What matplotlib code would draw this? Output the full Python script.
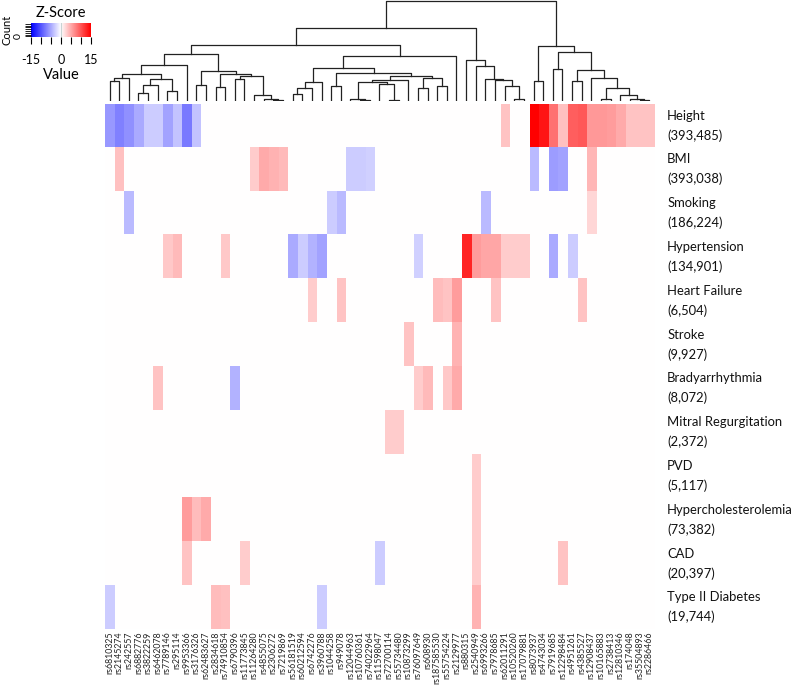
import numpy as np
import matplotlib.pyplot as plt
from matplotlib.colors import LinearSegmentedColormap

plt.rcParams['font.family'] = ['Lato', 'DejaVu Sans']

# SNPs (columns, dendrogram order)
snps = ['rs6810325', 'rs2145274', 'rs242557', 'rs6882776', 'rs3822259', 'rs6462078',
        'rs7789146', 'rs295114', 'rs9953366', 'rs3176326', 'rs62483627', 'rs2834618',
        'rs74910854', 'rs6790396', 'rs11773845', 'rs11264280', 'rs4855075', 'rs2306272',
        'rs7219869', 'rs56181519', 'rs60212594', 'rs6742276', 'rs3960788', 'rs1044258',
        'rs949078', 'rs12044963', 'rs10760361', 'rs74022964', 'rs11598047', 'rs72700114',
        'rs55734480', 'rs10873299', 'rs76097649', 'rs608930', 'rs187585530', 'rs55754224',
        'rs2129977', 'rs880315', 'rs2540949', 'rs6993266', 'rs7978685', 'rs62011291',
        'rs10520260', 'rs17079881', 'rs8073937', 'rs4743034', 'rs7919685', 'rs12298484',
        'rs4951261', 'rs4385527', 'rs12908437', 'rs10165883', 'rs2738413', 'rs12810346',
        'rs174048', 'rs35504893', 'rs2286466']

# traits (rows) and sample sizes
traits = ['Height', 'BMI', 'Smoking', 'Hypertension', 'Heart Failure', 'Stroke',
          'Bradyarrhythmia', 'Mitral Regurgitation', 'PVD', 'Hypercholesterolemia',
          'CAD', 'Type II Diabetes']
n_samples = ['393,485', '393,038', '186,224', '134,901', '6,504', '9,927',
             '8,072', '2,372', '5,117', '73,382', '20,397', '19,744']

# z-scores, one row per trait, 57 SNP columns
zscores = [
    [-6, -7.5, -6.5, -5, -3, -3, -5.5, -3.5, -7.8, -3.5, 0, 0, 0, 0, 0, 0, 0, 0, 0, 0,
     0, 0, 0, 0, 0, 0, 0, 0, 0, 0, 0, 0, 0, 0, 0, 0, 0, 0, 0, 0, 0, 3.5, 0, 0, 15, 13.8,
     8.4, 3.7, 9.4, 9.8, 6, 6, 5.8, 5, 3.5, 3.5, 3.5],
    [0, 3.7, 0, 0, 0, 0, 0, 0, 0, 0, 0, 0, 0, 0, 0, 3, 5, 4.5, 4, 0,
     0, 0, 0, 0, 0, -3, -3, -2.7, 0, 0, 0, 0, 0, 0, 0, 0, 0, 0, 0, 0, 0, 0, 0, 0, -4, 0,
     -5.8, -5.5, 0, 0, 4.3, 0, 0, 0, 0, 0, 0],
    [0, 0, -4, 0, 0, 0, 0, 0, 0, 0, 0, 0, 0, 0, 0, 0, 0, 0, 0, 0,
     0, 0, 0, -3, -4, 0, 0, 0, 0, 0, 0, 0, 0, 0, 0, 0, 0, 0, 0, -4, 0, 0, 0, 0, 0, 0,
     0, 0, 0, 0, 2.4, 0, 0, 0, 0, 0, 0],
    [0, 0, 0, 0, 0, 0, 3.2, 4, 0, 0, 0, 0, 3.2, 0, 0, 0, 0, 0, 0, -5,
     -3, -4.5, -5.5, 0, 0, 0, 0, 0, 0, 0, 0, 0, -2.7, 0, 0, 0, 0, 12.8, 5.8, 5.2, 5.2, 3, 3, 3, 0, 0,
     -5, 0, -3, 0, 0, 0, 0, 0, 0, 0, 0],
    [0, 0, 0, 0, 0, 0, 0, 0, 0, 0, 0, 0, 0, 0, 0, 0, 0, 0, 0, 0,
     0, 3, 0, 0, 3.5, 0, 0, 0, 0, 0, 0, 0, 0, 0, 3.9, 3.5, 5.8, 0, 0, 0, 3.5, 0, 0, 0, 0, 0,
     0, 0, 0, 3.5, 0, 0, 0, 0, 0, 0, 0],
    [0, 0, 0, 0, 0, 0, 0, 0, 0, 0, 0, 0, 0, 0, 0, 0, 0, 0, 0, 0,
     0, 0, 0, 0, 0, 0, 0, 0, 0, 0, 0, 3.5, 0, 0, 0, 0, 4.4, 0, 0, 0, 0, 0, 0, 0, 0, 0,
     0, 0, 0, 0, 0, 0, 0, 0, 0, 0, 0],
    [0, 0, 0, 0, 0, 3.5, 0, 0, 0, 0, 0, 0, 0, -4.5, 0, 0, 0, 0, 0, 0,
     0, 0, 0, 0, 0, 0, 0, 0, 0, 0, 0, 0, 3, 4, 0, 3.2, 5, 0, 0, 0, 0, 0, 0, 0, 0, 0,
     0, 0, 0, 0, 0, 0, 0, 0, 0, 0, 0],
    [0, 0, 0, 0, 0, 0, 0, 0, 0, 0, 0, 0, 0, 0, 0, 0, 0, 0, 0, 0,
     0, 0, 0, 0, 0, 0, 0, 0, 0, 3, 3, 0, 0, 0, 0, 0, 0, 0, 0, 0, 0, 0, 0, 0, 0, 0,
     0, 0, 0, 0, 0, 0, 0, 0, 0, 0, 0],
    [0, 0, 0, 0, 0, 0, 0, 0, 0, 0, 0, 0, 0, 0, 0, 0, 0, 0, 0, 0,
     0, 0, 0, 0, 0, 0, 0, 0, 0, 0, 0, 0, 0, 0, 0, 0, 0, 0, 3, 0, 0, 0, 0, 0, 0, 0,
     0, 0, 0, 0, 0, 0, 0, 0, 0, 0, 0],
    [0, 0, 0, 0, 0, 0, 0, 0, 5.8, 3.9, 5, 0, 0, 0, 0, 0, 0, 0, 0, 0,
     0, 0, 0, 0, 0, 0, 0, 0, 0, 0, 0, 0, 0, 0, 0, 0, 0, 0, 3, 0, 0, 0, 0, 0, 0, 0,
     0, 0, 0, 0, 0, 0, 0, 0, 0, 0, 0],
    [0, 0, 0, 0, 0, 0, 0, 0, 3.5, 0, 0, 0, 0, 0, 3, 0, 0, 0, 0, 0,
     0, 0, 0, 0, 0, 0, 0, 0, -3, 0, 0, 0, 0, 0, 0, 0, 0, 0, 3, 0, 0, 0, 0, 0, 0, 0,
     0, 3.5, 0, 0, 0, 0, 0, 0, 0, 0, 0],
    [-3, 0, 0, 0, 0, 0, 0, 0, 0, 0, 0, 3.9, 3.7, 0, 0, 0, 0, 0, 0, 0,
     0, 0, -3, 0, 0, 0, 0, 0, 0, 0, 0, 0, 0, 0, 0, 0, 0, 0, 4.4, 0, 0, 0, 0, 0, 0, 0,
     0, 0, 0, 0, 0, 0, 0, 0, 0, 0, 0],
]

# column dendrogram as merges (left, right, height); ids >= 57 refer to earlier merges
col_linkage = [
    (0, 1, 19), (57, 2, 22.7), (3, 4, 7.3), (59, 5, 15), (6, 7, 9.3), (60, 61, 21),
    (58, 62, 26), (63, 8, 35), (9, 10, 15.7), (11, 12, 13.3), (13, 14, 21.7),
    (17, 18, 0.3), (16, 68, 1), (15, 69, 5.7), (67, 70, 24), (66, 71, 26),
    (65, 72, 29.3), (64, 73, 46), (19, 20, 6.7), (75, 21, 12.7), (76, 22, 18.3),
    (23, 24, 14), (26, 27, 0.5), (25, 79, 1), (29, 30, 0.7), (28, 81, 16.7),
    (80, 82, 18.3), (83, 31, 20), (32, 33, 12.7), (34, 35, 14.3), (85, 86, 22.7),
    (84, 87, 24), (78, 88, 27.3), (77, 89, 32.3), (90, 36, 44), (74, 91, 55.7),
    (42, 43, 1.7), (41, 93, 14.3), (40, 94, 20), (39, 95, 21.7), (38, 96, 34),
    (37, 97, 40), (92, 98, 72.3), (44, 45, 19.3), (46, 47, 31.7), (48, 49, 19),
    (51, 52, 1), (55, 56, 0.3), (54, 104, 1), (53, 105, 5.7), (103, 106, 12.3),
    (50, 107, 22.7), (102, 108, 30), (101, 109, 48.3), (100, 110, 54), (99, 111, 99),
]

W, H = 800, 685
fig = plt.figure(figsize=(W / 100, H / 100), dpi=100)

def px_axes(x0, y0, x1, y1):
    return fig.add_axes([x0 / W, 1 - y1 / H, (x1 - x0) / W, (y1 - y0) / H])

bluered = LinearSegmentedColormap.from_list('bluered', ['#0000ff', '#ffffff', '#ff0000'])
ncol = len(snps)
nrow = len(traits)

# heatmap
ax = px_axes(104.7, 103.7, 654, 629.3)
ax.imshow(np.array(zscores), cmap=bluered, vmin=-15, vmax=15, aspect='auto',
          extent=(0, ncol, nrow, 0), interpolation='nearest')
ax.set_xlim(0, ncol)
ax.set_ylim(nrow, 0)
for s in ax.spines.values():
    s.set_visible(False)
ax.set_yticks([])
ax.set_xticks(np.arange(ncol) + 0.5)
ax.set_xticklabels(snps, rotation=90, fontsize=6.3, color='#222222')
ax.tick_params(axis='x', length=0, pad=1.5)
for i, (t, n) in enumerate(zip(traits, n_samples)):
    ax.text(1.024, 1 - (i + 0.5) / nrow, t + '\n(' + n + ')', transform=ax.transAxes,
            ha='left', va='center', fontsize=9.4, linespacing=1.72, color='#111111')

# column dendrogram
dax = px_axes(104.7, 0, 654, 100.5)
dax.set_xlim(0, ncol)
dax.set_ylim(0, 100)
dax.axis('off')
xs = {i: i + 0.5 for i in range(ncol)}
hs = {i: 0 for i in range(ncol)}
for k, (a, b, h) in enumerate(col_linkage):
    dax.plot([xs[a], xs[a], xs[b], xs[b]], [hs[a], h, h, hs[b]], color='#222222', lw=0.9)
    xs[ncol + k] = (xs[a] + xs[b]) / 2
    hs[ncol + k] = h

# color key
kax = px_axes(31, 23, 91, 37)
grad = np.linspace(-15, 15, 256).reshape(1, -1)
kax.imshow(grad, cmap=bluered, vmin=-15, vmax=15, aspect='auto', extent=(-15, 15, 0, 1))
kax.axvline(0, color='#c8d4d4', lw=0.8)
kax.set_xlim(-15, 15)
kax.set_ylim(0, 1)
for s in kax.spines.values():
    s.set_visible(False)
kax.set_xticks([-15, -10, -5, 0, 5, 10, 15])
kax.set_xticklabels(['-15', '', '', '0', '', '', '15'])
kax.tick_params(axis='x', length=5, width=0.8, pad=7, labelsize=9)
kax.set_yticks(np.linspace(0.05, 0.95, 8))
kax.set_yticklabels(['0'] + [''] * 7, rotation=90, va='center')
kax.tick_params(axis='y', length=4, width=0.6, pad=2, labelsize=7.5)
kax.set_ylabel('Count', fontsize=8, labelpad=1)
kax.set_xlabel('Value', fontsize=10.5, labelpad=2)
kax.set_title('Z-Score', fontsize=10.5, pad=4)

fig.savefig('out.png', dpi=100)
